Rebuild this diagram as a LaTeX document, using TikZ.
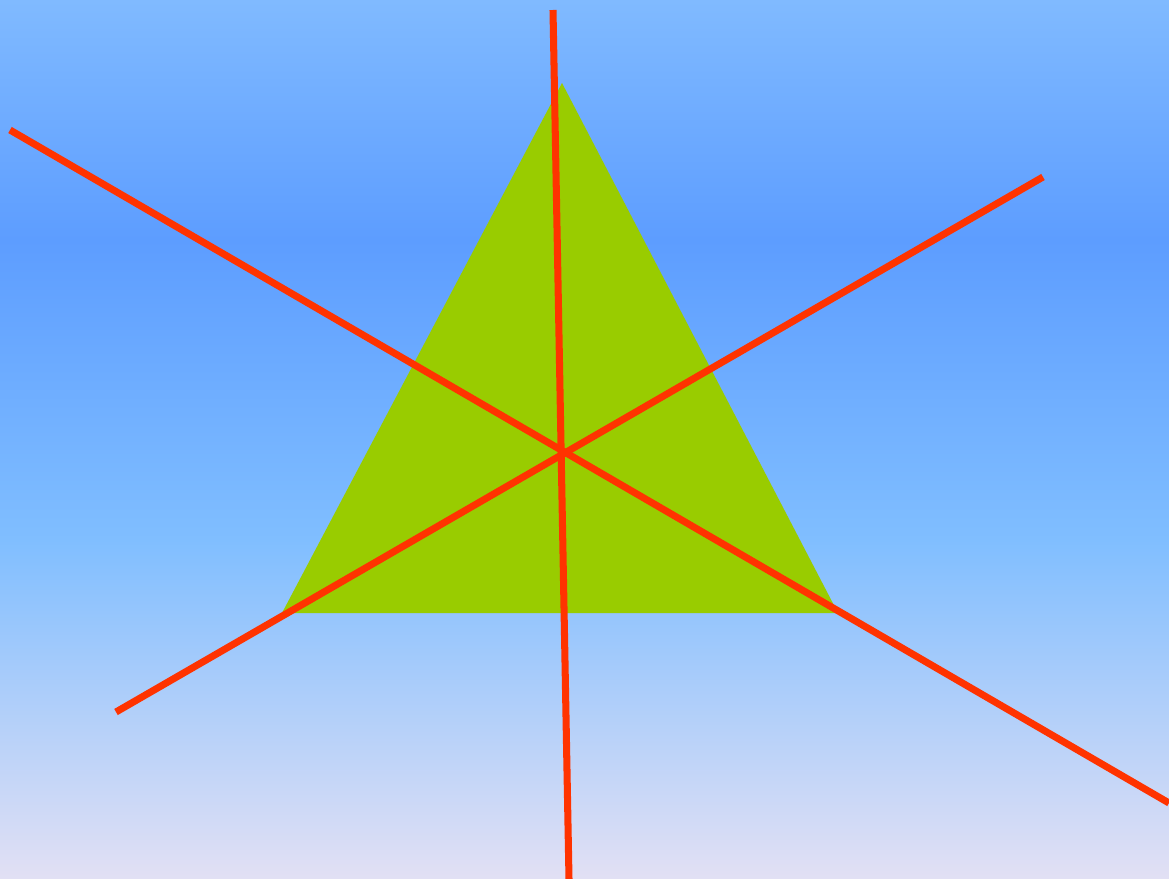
\documentclass[tikz,border=0pt]{standalone}
\usepackage{tikz}
\usetikzlibrary{calc}
\definecolor{skytop}{RGB}{128,186,255}
\definecolor{skymid}{RGB}{93,157,255}
\definecolor{skylow}{RGB}{128,190,255}
\definecolor{skybot}{RGB}{226,224,244}
\definecolor{leaf}{RGB}{153,204,0}
\definecolor{flame}{RGB}{255,51,0}
\tikzset{
  band/.style={draw=none},
  axisline/.style={flame,line width=2pt},
}
\begin{document}
\begin{tikzpicture}[x=0.01cm,y=-0.01cm]
  % sky
  \shade[band,top color=skytop,bottom color=skymid] (0,0) rectangle (1169,240);
  \shade[band,top color=skymid,bottom color=skylow] (0,239.5) rectangle (1169,540);
  \shade[band,top color=skylow,bottom color=skybot] (0,539.5) rectangle (1169,879);
  \useasboundingbox (0,0) rectangle (1169,879);
  % triangle
  \coordinate (apex) at (562,83);
  \coordinate (left) at (282,613);
  \coordinate (right) at (838,613);
  \fill[leaf] (apex) -- (left) -- (right) -- cycle;
  % the three lines
  \coordinate (v1) at (553,10);
  \coordinate (v2) at (569,879);
  \coordinate (a1) at (10,130);
  \coordinate (a2) at (1169,803);
  \coordinate (b1) at (116,712);
  \coordinate (b2) at (1043,177);
  \draw[axisline] (v1) -- (v2);
  \draw[axisline] (a1) -- (a2);
  \draw[axisline] (b1) -- (b2);
\end{tikzpicture}
\end{document}
